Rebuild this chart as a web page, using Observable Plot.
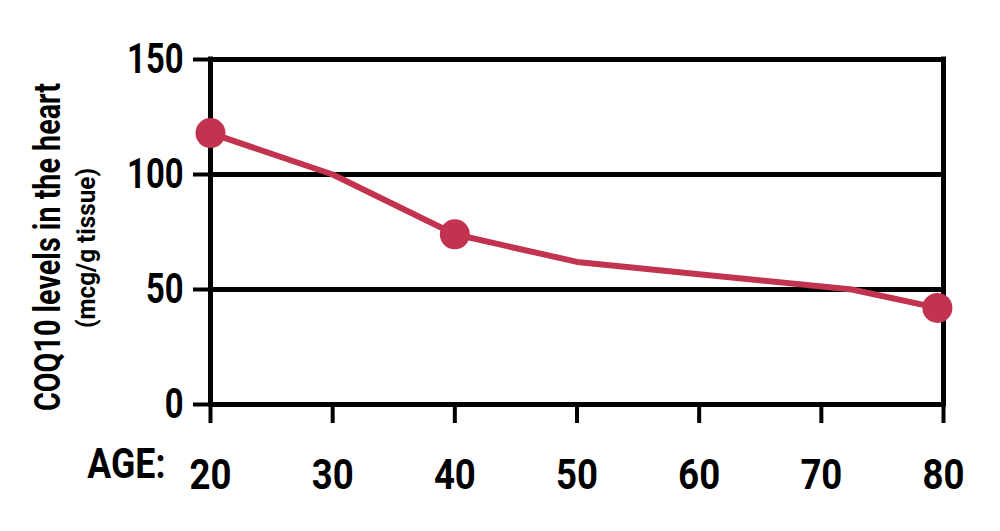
<!DOCTYPE html>
<html>
<head>
<meta charset="utf-8">
<script src="https://cdn.jsdelivr.net/npm/d3@7"></script>
<script src="https://cdn.jsdelivr.net/npm/@observablehq/plot@0.6"></script>
<style>
  html, body { margin: 0; padding: 0; background: #fff; }
  #chart svg { display: block; }
</style>
</head>
<body>
<div id="chart"></div>
<script>
const ages = [20, 30, 40, 50, 72.5, 79.5];
const levels = [118, 100, 74, 62, 50, 42];
const markedAges = [20, 40, 79.5];
const markedLevels = [118, 74, 42];
const xTicks = [20, 30, 40, 50, 60, 70, 80];
const yTicks = [0, 50, 100, 150];
const yTitle = "COQ10 levels in the heart";
const ySubtitle = "(mcg/g tissue)";
const xTitle = "AGE:";

const lineData = ages.map((a, i) => ({age: a, level: levels[i]}));
const dotData = markedAges.map((a, i) => ({age: a, level: markedLevels[i]}));

const font = "Roboto, 'DejaVu Sans', sans-serif";
const red = "#C1334F";

const chart = Plot.plot({
  width: 1000,
  height: 531,
  marginLeft: 210,
  marginRight: 57,
  marginTop: 59,
  marginBottom: 127,
  style: {fontFamily: font, fontWeight: "bold", color: "#000", background: "#fff"},
  x: {domain: [20, 80]},
  y: {domain: [0, 150]},
  marks: [
    Plot.ruleY(yTicks, {x1: 20, x2: 80, stroke: "#000", strokeWidth: 5}),
    Plot.ruleX([20, 80], {y1: 0, y2: 150, stroke: "#000", strokeWidth: 5, strokeLinecap: "square"}),
    Plot.axisY({ticks: yTicks, tickSize: 17, tickPadding: 10, strokeWidth: 4, fontSize: 42, fontWeight: "bold", label: null, className: "ytick"}),
    Plot.axisX({ticks: xTicks, tickSize: 19, tickPadding: 36, strokeWidth: 4, fontSize: 42, fontWeight: "bold", label: null, className: "xtick"}),
    Plot.text([xTitle], {frameAnchor: "bottom-left", dx: -45, dy: 73, textAnchor: "end", fontSize: 42, fontWeight: "bold", className: "agelab"}),
    Plot.text([yTitle], {frameAnchor: "left", textAnchor: "middle", rotate: -90, dx: -162, dy: 15, fontSize: 36, fontWeight: "bold", className: "ytitle"}),
    Plot.text([ySubtitle], {frameAnchor: "left", textAnchor: "middle", rotate: -90, dx: -124, dy: 16, fontSize: 26, fontWeight: "bold", className: "ysub"}),
    Plot.line(lineData, {x: "age", y: "level", stroke: red, strokeWidth: 6, strokeLinejoin: "round"}),
    Plot.dot(dotData, {x: "age", y: "level", r: 15, fill: red, stroke: "none"})
  ]
});
document.getElementById("chart").appendChild(chart);

// condense glyphs to mimic the narrow typeface of the original
function condense(selector, factor, target) {
  chart.querySelectorAll(selector + " text").forEach(t => {
    const L = t.getComputedTextLength();
    const len = target != null ? target : L * factor;
    t.setAttribute("textLength", len);
    t.setAttribute("lengthAdjust", "spacingAndGlyphs");
  });
}
condense(".ytick", 0.78);
condense(".xtick", 0.87);
condense(".agelab", 0.85);
condense(".ytitle", null, 328);
condense(".ysub", null, 160);
</script>
</body>
</html>
